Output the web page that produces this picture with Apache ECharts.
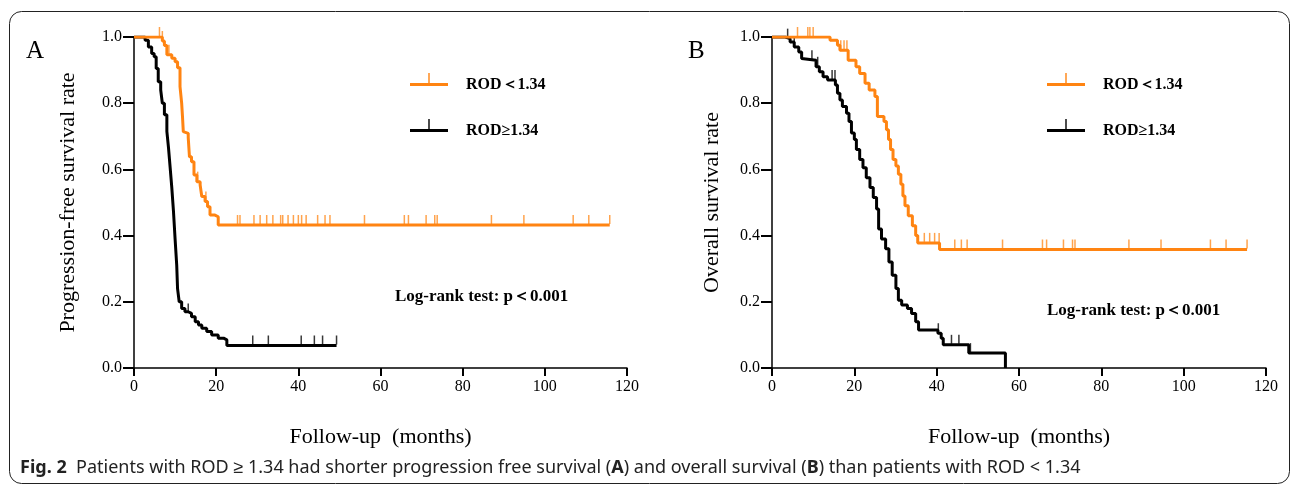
<!DOCTYPE html>
<html>
<head>
<meta charset="utf-8">
<script src="https://cdn.jsdelivr.net/npm/echarts@6/dist/echarts.min.js"></script>
<style>
html, body { margin: 0; padding: 0; background: #fff; }
#main { width: 1295px; height: 489px; }
</style>
</head>
<body>
<div id="main"></div>
<script>
// 轴刻度
var xTicks = [0, 20, 40, 60, 80, 100, 120]
var yTicks = [0, 0.2, 0.4, 0.6, 0.8, 1.0]

// A: progression-free survival, ROD < 1.34
var pfsLowT = [0, 6.9, 7.4, 8.0, 9.2, 10.0, 10.6, 11.2, 11.6, 11.8, 12.0, 12.4, 13.2, 13.5, 14.0, 14.6, 15.3, 16.1, 16.5, 17.3, 17.9, 18.5, 19.7, 20.5, 115.8]
var pfsLowS = [1, 0.988, 0.974, 0.946, 0.936, 0.925, 0.907, 0.85, 0.80, 0.76, 0.714, 0.709, 0.696, 0.638, 0.623, 0.583, 0.563, 0.553, 0.518, 0.503, 0.487, 0.462, 0.457, 0.432, 0.432]
var pfsLowCens = [6.2, 6.9, 8.5, 15.5, 17.5, 25.2, 25.8, 29.2, 30.7, 32.3, 33.8, 35.7, 36.2, 37.5, 38.8, 40.0, 40.8, 41.9, 44.7, 46.5, 47.7, 56.1, 65.8, 66.8, 71.1, 73.2, 73.8, 87.0, 94.9, 106.9, 110.7, 115.8]

// A: ROD >= 1.34
var pfsHighT = [0, 2.7, 3.5, 4.3, 4.9, 5.4, 5.9, 6.5, 6.9, 7.4, 8.0, 8.4, 8.8, 9.2, 9.6, 10.0, 10.4, 10.6, 11.0, 11.6, 12.4, 13.2, 14.0, 14.9, 15.7, 16.5, 17.7, 18.9, 20.5, 21.8, 22.6, 49.3]
var pfsHighS = [1, 0.99, 0.97, 0.95, 0.94, 0.905, 0.865, 0.84, 0.80, 0.765, 0.715, 0.665, 0.605, 0.545, 0.475, 0.39, 0.31, 0.24, 0.20, 0.18, 0.17, 0.165, 0.155, 0.14, 0.13, 0.12, 0.11, 0.10, 0.09, 0.085, 0.068, 0.068]
var pfsHighCens = [13.2, 28.9, 32.7, 40.7, 43.9, 45.9, 49.3]

// B: overall survival, ROD < 1.34
var osLowT = [0, 14.1, 15.9, 16.5, 18.5, 20.4, 21.3, 22.6, 23.6, 25.0, 25.6, 27.2, 27.8, 28.3, 28.8, 29.4, 30.1, 30.7, 31.3, 31.8, 32.3, 33.1, 34.1, 34.9, 35.4, 40.7, 115.4]
var osLowS = [1, 0.99, 0.975, 0.96, 0.93, 0.91, 0.89, 0.86, 0.84, 0.82, 0.76, 0.745, 0.72, 0.69, 0.66, 0.63, 0.61, 0.585, 0.555, 0.52, 0.49, 0.46, 0.43, 0.40, 0.378, 0.358, 0.358]
var osLowCens = [6.2, 8.7, 9.2, 10.0, 16.7, 17.5, 18.2, 37.0, 38.3, 39.5, 40.6, 44.4, 46.0, 47.4, 56.0, 65.7, 66.7, 70.8, 73.0, 73.6, 86.7, 94.5, 106.5, 110.3, 115.4]

// B: ROD >= 1.34
var osHighT = [0, 3.2, 4.4, 5.4, 6.5, 7.2, 7.6, 10.7, 11.5, 12.4, 13.5, 15.4, 15.9, 16.5, 17.1, 18.1, 18.7, 19.3, 20.0, 20.5, 21.3, 22.1, 22.9, 23.8, 24.6, 25.4, 25.9, 26.6, 27.6, 28.4, 29.2, 30.1, 30.7, 31.5, 32.9, 33.9, 34.9, 35.6, 40.3, 41.1, 41.6, 47.8, 56.7]
var osHighS = [1, 0.995, 0.985, 0.97, 0.955, 0.935, 0.93, 0.91, 0.895, 0.88, 0.87, 0.855, 0.83, 0.81, 0.79, 0.77, 0.745, 0.71, 0.69, 0.66, 0.63, 0.605, 0.575, 0.545, 0.515, 0.48, 0.42, 0.39, 0.36, 0.32, 0.28, 0.24, 0.205, 0.19, 0.18, 0.165, 0.14, 0.115, 0.105, 0.09, 0.07, 0.045, 0]
var osHighCens = [3.8, 5.4, 9.7, 11.1, 14.6, 15.3, 40.4, 43.6, 45.4, 48.2]

var ORANGE = '#ff8412'
var BLACK = '#000'
var SERIF = '"Liberation Serif", "Times New Roman", serif'
var tickPath = 'path://M0,0 L1,0 L1,10 L0,10 Z'
// 图例图标: 横线+竖短线, 底部加一个空点让线居中
var legendIcon = 'path://M0,10 L38,10 L38,13 L0,13 Z M18.3,0 L19.7,0 L19.7,10 L18.3,10 Z M0,23 L0.01,23 L0,23 Z'

function zip(ts, ss) {
    return ts.map(function (t, i) { return [t, ss[i]] })
}
// 删失点落在曲线上
function survAt(ts, ss, t) {
    var v = ss[0]
    for (var i = 0; i < ts.length; i++) if (ts[i] <= t) v = ss[i]
    return v
}
function censData(ts, ss, cens) {
    return cens.map(function (t) { return [t, survAt(ts, ss, t)] })
}

function kmLine(name, idx, ts, ss, color) {
    return {
        name: name, type: 'line', step: 'end', xAxisIndex: idx, yAxisIndex: idx,
        data: zip(ts, ss), showSymbol: false, symbol: 'none',
        lineStyle: { color: color, width: 3 }, itemStyle: { color: color },
        animation: false
    }
}
function censScatter(name, idx, ts, ss, cens, color, op) {
    return {
        name: name, type: 'scatter', xAxisIndex: idx, yAxisIndex: idx,
        data: censData(ts, ss, cens), symbol: tickPath, symbolSize: [1.5, 9],
        symbolOffset: [0, -5.5], itemStyle: { color: color, opacity: op },
        animation: false, silent: true
    }
}

function xAxisOf(idx) {
    return {
        gridIndex: idx, type: 'value', min: xTicks[0], max: xTicks[xTicks.length - 1], interval: 20,
        name: 'Follow-up  (months)', nameLocation: 'middle', nameGap: 58,
        nameTextStyle: { fontFamily: SERIF, fontSize: 22, color: '#000' },
        axisLine: { show: true, lineStyle: { color: '#000', width: 1.5 } },
        axisTick: { show: true, length: 8, lineStyle: { color: '#000', width: 2 } },
        axisLabel: { fontFamily: SERIF, fontSize: 16, color: '#000', margin: 11 },
        splitLine: { show: false }
    }
}
function yAxisOf(idx, name, gap) {
    return {
        gridIndex: idx, type: 'value', min: yTicks[0], max: yTicks[yTicks.length - 1], interval: 0.2,
        name: name, nameLocation: 'middle', nameGap: gap,
        nameTextStyle: { fontFamily: SERIF, fontSize: 22, color: '#000' },
        axisLine: { show: true, lineStyle: { color: '#000', width: 1.5 } },
        axisTick: { show: true, length: 11, lineStyle: { color: '#000', width: 2 } },
        axisLabel: { fontFamily: SERIF, fontSize: 16, color: '#000', margin: 12,
            formatter: function (v) { return v.toFixed(1) } },
        splitLine: { show: false }
    }
}
function legendOf(left) {
    return {
        left: left, top: 73, orient: 'vertical', itemGap: 23, selectedMode: false, padding: 0,
        itemWidth: 38, itemHeight: 23,
        data: [{ name: 'ROD＜1.34', icon: legendIcon }, { name: 'ROD≥1.34', icon: legendIcon }],
        textStyle: { fontFamily: SERIF, fontSize: 16, fontWeight: 'bold', color: '#000', padding: [0, 0, 0, 13] }
    }
}

var myChart = echarts.init(document.getElementById('main'), null, { renderer: 'canvas' })

var option = {
    backgroundColor: '#fff',
    animation: false,
    grid: [
        { left: 134, top: 37, right: 668, bottom: 121 },
        { left: 772, top: 37, right: 29, bottom: 121 }
    ],
    xAxis: [xAxisOf(0), xAxisOf(1)],
    yAxis: [yAxisOf(0, 'Progression-free survival rate', 55), yAxisOf(1, 'Overall survival rate', 49)],
    legend: [legendOf(410), legendOf(1047)],
    series: [
        kmLine('ROD≥1.34', 0, pfsHighT, pfsHighS, BLACK),
        censScatter('ROD≥1.34', 0, pfsHighT, pfsHighS, pfsHighCens, '#222', 0.9),
        kmLine('ROD＜1.34', 0, pfsLowT, pfsLowS, ORANGE),
        censScatter('ROD＜1.34', 0, pfsLowT, pfsLowS, pfsLowCens, ORANGE, 0.75),
        kmLine('ROD≥1.34', 1, osHighT, osHighS, BLACK),
        censScatter('ROD≥1.34', 1, osHighT, osHighS, osHighCens, '#222', 0.9),
        kmLine('ROD＜1.34', 1, osLowT, osLowS, ORANGE),
        censScatter('ROD＜1.34', 1, osLowT, osLowS, osLowCens, ORANGE, 0.75)
    ],
    graphic: [
        { type: 'rect', shape: { x: 9.5, y: 11.5, width: 1280, height: 472, r: 12 },
          style: { fill: 'none', stroke: '#222', lineWidth: 1 }, silent: true },
        { type: 'text', x: 26, y: 39, style: { text: 'A', font: '25px ' + SERIF, fill: '#000' } },
        { type: 'text', x: 688, y: 39, style: { text: 'B', font: '25px ' + SERIF, fill: '#000' } },
        { type: 'text', x: 395, y: 297, style: { text: 'Log-rank test: p＜0.001', font: 'bold 17px ' + SERIF, fill: '#000', verticalAlign: 'middle' } },
        { type: 'text', x: 1047, y: 311, style: { text: 'Log-rank test: p＜0.001', font: 'bold 17px ' + SERIF, fill: '#000', verticalAlign: 'middle' } },
        { type: 'text', x: 20, y: 468, style: {
            text: '{b|Fig. 2}  Patients with ROD ≥ 1.34 had shorter progression free survival ({b|A}) and overall survival ({b|B}) than patients with ROD < 1.34',
            font: '18px "Noto Sans", sans-serif', fill: '#222', verticalAlign: 'middle',
            rich: { b: { fontWeight: 'bold', fontSize: 18, fontFamily: '"Noto Sans", sans-serif', fill: '#222' } }
        } }
    ]
}
myChart.setOption(option)
</script>
</body>
</html>
